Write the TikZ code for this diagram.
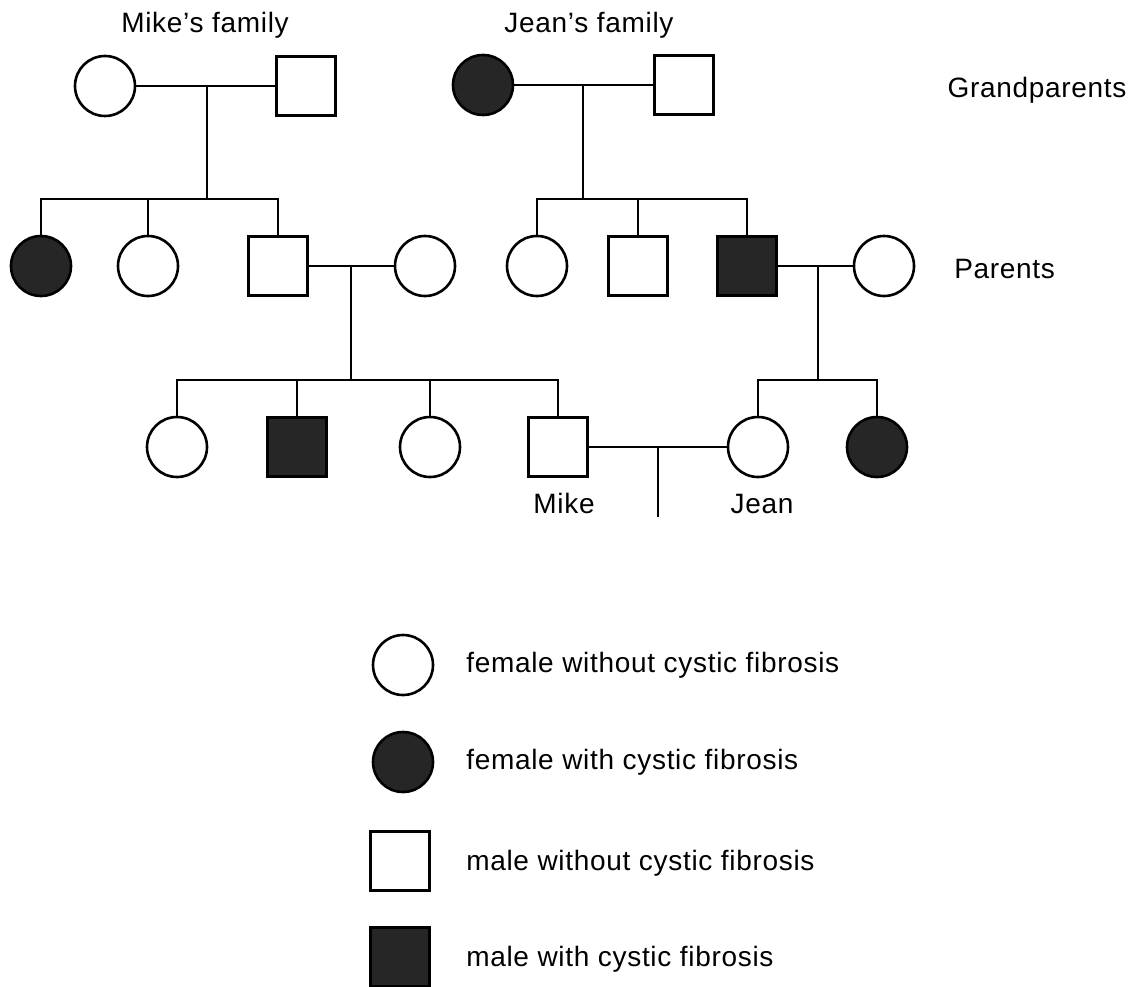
\documentclass[tikz,border=0pt]{standalone}
\usepackage{fontspec}
\setmainfont{Liberation Sans}[LetterSpace=2.5]
\begin{document}
\begin{tikzpicture}[x=1pt,y=-1pt,
  line width=2.6pt,
  female/.style={circle,draw,fill=white,minimum size=60pt,inner sep=0pt},
  male/.style={rectangle,draw,fill=white,minimum size=59pt,inner sep=0pt},
  affected/.style={fill=black!85},
  lbl/.style={font=\fontsize{28}{32}\selectfont,inner sep=0pt,anchor=base},
  leg/.style={font=\fontsize{28}{32}\selectfont,inner sep=0pt,anchor=base west}]
\useasboundingbox (0,0) rectangle (1135,987);

% ---- headings
\node[lbl] (hm) at (205,33) {Mike’s family};
\node[lbl] (hj) at (589,33) {Jean’s family};
\node[lbl] (hg) at (1037,98) {Grandparents};
\node[lbl,anchor=base west] (hp) at (953,278) {Parents};

% ---- grandparents
\node[female] (mgm) at (105,86) {};
\node[male]   (mgf) at (306,86) {};
\node[female,affected] (jgm) at (483,85) {};
\node[male]   (jgf) at (684,85) {};

% ---- parents' generation
\node[female,affected] (ma) at (41,266) {};
\node[female] (mb) at (148,266) {};
\node[male]   (mf) at (278,266) {};
\node[female] (mm) at (425,266) {};
\node[female] (ja) at (537,266) {};
\node[male]   (jb) at (638,266) {};
\node[male,affected] (jf) at (747,266) {};
\node[female] (jm) at (884,266) {};

% ---- children
\node[female] (c1) at (177,447) {};
\node[male,affected] (c2) at (297,447) {};
\node[female] (c3) at (430,447) {};
\node[male]   (mike) at (558,447) {};
\node[female] (jean) at (758,447) {};
\node[female,affected] (js) at (877,447) {};
\node[lbl] (lmike) at (564,513) {Mike};
\node[lbl] (ljean) at (762,513) {Jean};

% ---- junction points
\coordinate (mgp) at (207,86);
\coordinate (msib) at (207,199);
\coordinate (jgp) at (583,85);
\coordinate (jsib) at (583,199);
\coordinate (mpar) at (351,266);
\coordinate (mkids) at (351,380);
\coordinate (jpar) at (818,266);
\coordinate (jkids) at (818,380);
\coordinate (mj) at (658,447);
\coordinate (mjend) at (658,517);

% ---- Mike's family lines
\draw (mgm) -- (mgf);
\draw (mgp) -- (msib);
\draw (ma.north) |- (msib) -| (mf.north);
\draw (mb.north) -- (mb.north |- msib);
\draw (mf) -- (mm);
\draw (mpar) -- (mkids);
\draw (c1.north) |- (mkids) -| (mike.north);
\draw (c2.north) -- (c2.north |- mkids);
\draw (c3.north) -- (c3.north |- mkids);

% ---- Jean's family lines
\draw (jgm) -- (jgf);
\draw (jgp) -- (jsib);
\draw (ja.north) |- (jsib) -| (jf.north);
\draw (jb.north) -- (jb.north |- jsib);
\draw (jf) -- (jm);
\draw (jpar) -- (jkids);
\draw (jean.north) |- (jkids) -| (js.north);

% ---- Mike and Jean
\draw (mike) -- (jean);
\draw (mj) -- (mjend);

% ---- key
\node[female] (k1) at (403,665) {};
\node[female,affected] (k2) at (403,762) {};
\node[male] (k3) at (400,861) {};
\node[male,affected] (k4) at (400,957) {};
\node[leg] (t1) at (465,672) {female without cystic fibrosis};
\node[leg] (t2) at (465,769) {female with cystic fibrosis};
\node[leg] (t3) at (465,870) {male without cystic fibrosis};
\node[leg] (t4) at (465,966) {male with cystic fibrosis};
\end{tikzpicture}
\end{document}
